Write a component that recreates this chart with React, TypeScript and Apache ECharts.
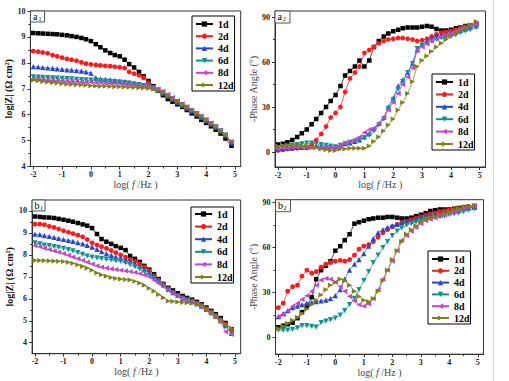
import React, { useEffect, useRef } from "react";
import * as echarts from "echarts";

const FONT = "'Liberation Serif', 'Times New Roman', serif";

// log(f/Hz) sampling points
const logF = [
  -2, -1.83, -1.67, -1.5, -1.33, -1.17,
  -1, -0.83, -0.67, -0.5, -0.33, -0.17,
  0, 0.17, 0.33, 0.5, 0.67, 0.83,
  1, 1.17, 1.33, 1.5, 1.67, 1.83,
  2, 2.17, 2.33, 2.5, 2.67, 2.83,
  3, 3.17, 3.33, 3.5, 3.67, 3.83,
  4, 4.17, 4.33, 4.5, 4.67, 4.88,
];

const seriesNames = ["1d", "2d", "4d", "6d", "8d", "12d"];

const xTicks = [-2, -1, 0, 1, 2, 3, 4, 5];
const xMinorTicks = [-1.5, -0.5, 0.5, 1.5, 2.5, 3.5, 4.5];
const zTicks = [4, 5, 6, 7, 8, 9, 10];
const zMinorTicks = [4.5, 5.5, 6.5, 7.5, 8.5, 9.5];
const phaseTicks = [0, 30, 60, 90];
const phaseMinorTicks = [15, 45, 75];

// Panel a1: log|Z|
const a1_1d = [9.15, 9.14, 9.13, 9.12, 9.11, 9.1, 9.08, 9.06, 9.03, 9.0, 8.96, 8.91, 8.84, 8.72, 8.6, 8.48, 8.38, 8.3, 8.25, 8.12, 7.95, 7.82, 7.65, 7.48, 7.3, 7.1, 6.92, 6.75, 6.6, 6.5, 6.4, 6.3, 6.18, 6.05, 5.93, 5.8, 5.68, 5.55, 5.42, 5.27, 5.08, 4.8];
const a1_2d = [8.45, 8.43, 8.4, 8.37, 8.3, 8.25, 8.2, 8.15, 8.12, 8.08, 8.02, 7.97, 7.94, 7.92, 7.9, 7.88, 7.87, 7.85, 7.83, 7.8, 7.65, 7.58, 7.52, 7.42, 7.22, 7.05, 6.95, 6.82, 6.7, 6.58, 6.46, 6.35, 6.24, 6.12, 6.0, 5.88, 5.75, 5.62, 5.5, 5.35, 5.18, 4.9];
const a1_4d = [7.85, 7.84, 7.82, 7.8, 7.79, 7.77, 7.75, 7.73, 7.72, 7.7, 7.68, 7.65, 7.6, 7.42, 7.38, 7.36, 7.34, 7.32, 7.3, 7.28, 7.25, 7.22, 7.18, 7.13, 7.08, 7.02, 6.94, 6.84, 6.72, 6.6, 6.48, 6.37, 6.26, 6.14, 6.02, 5.9, 5.77, 5.64, 5.52, 5.37, 5.2, 4.92];
const a1_6d = [7.46, 7.45, 7.44, 7.43, 7.42, 7.41, 7.4, 7.39, 7.38, 7.36, 7.35, 7.34, 7.33, 7.32, 7.31, 7.3, 7.29, 7.28, 7.26, 7.24, 7.22, 7.19, 7.16, 7.12, 7.08, 7.03, 6.96, 6.86, 6.74, 6.62, 6.5, 6.39, 6.28, 6.16, 6.04, 5.92, 5.79, 5.66, 5.53, 5.38, 5.21, 4.93];
const a1_8d = [7.38, 7.37, 7.35, 7.34, 7.32, 7.31, 7.3, 7.29, 7.28, 7.27, 7.26, 7.25, 7.25, 7.24, 7.23, 7.22, 7.21, 7.2, 7.2, 7.18, 7.16, 7.14, 7.12, 7.1, 7.08, 7.04, 6.98, 6.9, 6.78, 6.66, 6.54, 6.42, 6.3, 6.18, 6.06, 5.94, 5.81, 5.68, 5.55, 5.4, 5.23, 4.95];
const a1_12d = [7.33, 7.31, 7.28, 7.26, 7.24, 7.22, 7.2, 7.18, 7.17, 7.16, 7.15, 7.14, 7.12, 7.11, 7.1, 7.1, 7.09, 7.08, 7.08, 7.07, 7.06, 7.05, 7.04, 7.03, 7.02, 6.99, 6.94, 6.86, 6.75, 6.63, 6.51, 6.4, 6.29, 6.17, 6.05, 5.93, 5.8, 5.67, 5.54, 5.39, 5.22, 4.96];

// Panel a2: -Phase angle
const a2_1d = [5, 5.5, 6.5, 8, 10, 12.5, 15, 18.5, 22, 26, 30, 34, 38, 44, 51, 54, 57, 61, 57, 61, 70, 74, 77, 79, 80.5, 81.5, 82.5, 83, 83, 83, 83.5, 84, 83.5, 82, 81, 81, 81.5, 82.5, 83, 84, 84.5, 85];
const a2_2d = [1, 1.5, 2, 2.5, 2.5, 3, 3.5, 5, 8, 12, 17, 23, 26, 30, 40, 49, 53, 57, 66, 68, 70, 72.5, 74, 75, 75.5, 76, 76, 75.5, 75, 74, 74.5, 75.5, 77, 78.5, 79.5, 80, 80.5, 81.5, 82.5, 83.5, 84.5, 86];
const a2_4d = [2, 2, 2.5, 2.5, 3, 3, 3, 3.5, 4, 4, 3.5, 3.5, 3.5, 4.5, 5.5, 6, 7, 8, 10, 12.5, 15.5, 19, 23, 30, 36, 44, 48, 53, 59, 68, 72, 74, 76, 77.5, 78, 78.5, 79, 80, 81, 82, 83, 84];
const a2_6d = [3, 3.5, 4, 4.5, 5, 5.5, 6, 6, 5.5, 5, 4.5, 4, 3.5, 4.5, 5.5, 6.5, 7, 8, 9.5, 11, 14, 18, 22, 29, 35, 42, 47, 53, 59, 69, 71, 72.5, 74, 75, 76, 76.5, 77, 78, 79.5, 80.5, 81.5, 83];
const a2_8d = [2, 2.5, 2.5, 3, 3, 3, 3, 3, 3, 3, 3, 3, 3, 4.5, 6, 7, 8.5, 10, 13, 15, 16, 19, 23, 28, 33, 39, 45, 50, 56, 68, 70, 72, 74, 75.5, 77, 78, 79, 80.5, 82, 83, 84, 85];
const a2_12d = [4, 4.5, 4.5, 4.5, 4.5, 4, 4, 3.5, 3, 2, 1.5, 1, 1, 2, 2, 2.5, 2.5, 2.5, 2.5, 4, 7, 10, 14, 18, 22, 28, 33, 39, 47, 57, 61, 64, 67, 70, 72.5, 75, 77, 79, 81, 83, 85, 87];

// Panel b1: log|Z|
const b1_1d = [9.75, 9.73, 9.71, 9.7, 9.68, 9.64, 9.6, 9.56, 9.51, 9.45, 9.39, 9.33, 9.22, 8.95, 8.72, 8.6, 8.5, 8.4, 8.32, 8.22, 7.95, 7.82, 7.68, 7.5, 7.33, 7.12, 6.9, 6.68, 6.5, 6.38, 6.25, 6.13, 6.04, 5.96, 5.86, 5.75, 5.6, 5.45, 5.3, 5.12, 4.9, 4.62];
const b1_2d = [9.4, 9.4, 9.38, 9.3, 9.25, 9.18, 9.1, 9.03, 8.97, 8.9, 8.82, 8.7, 8.55, 8.45, 8.38, 8.3, 8.2, 8.1, 8.0, 7.9, 7.8, 7.7, 7.58, 7.45, 7.28, 7.05, 6.85, 6.65, 6.45, 6.3, 6.17, 6.05, 5.97, 5.9, 5.8, 5.7, 5.55, 5.4, 5.25, 5.05, 4.85, 4.6];
const b1_4d = [8.95, 8.92, 8.88, 8.84, 8.8, 8.75, 8.7, 8.66, 8.62, 8.56, 8.5, 8.43, 8.35, 8.25, 8.15, 8.05, 7.98, 7.9, 7.85, 7.78, 7.7, 7.6, 7.48, 7.35, 7.2, 7.02, 6.83, 6.63, 6.43, 6.28, 6.15, 6.03, 5.95, 5.87, 5.78, 5.67, 5.52, 5.37, 5.2, 5.0, 4.78, 4.42];
const b1_6d = [8.55, 8.5, 8.45, 8.42, 8.38, 8.34, 8.3, 8.24, 8.18, 8.1, 8.02, 7.95, 7.9, 7.86, 7.83, 7.8, 7.77, 7.73, 7.7, 7.63, 7.55, 7.45, 7.35, 7.22, 7.08, 6.92, 6.76, 6.6, 6.42, 6.27, 6.14, 6.02, 5.94, 5.86, 5.76, 5.65, 5.5, 5.35, 5.18, 4.98, 4.75, 4.42];
const b1_8d = [8.42, 8.37, 8.3, 8.24, 8.18, 8.12, 8.06, 7.98, 7.9, 7.83, 7.75, 7.67, 7.58, 7.5, 7.44, 7.4, 7.36, 7.33, 7.3, 7.27, 7.24, 7.2, 7.15, 7.08, 7.0, 6.85, 6.7, 6.55, 6.38, 6.24, 6.12, 6.0, 5.92, 5.85, 5.75, 5.63, 5.48, 5.33, 5.15, 4.95, 4.5, 4.38];
const b1_12d = [7.75, 7.75, 7.74, 7.73, 7.72, 7.71, 7.7, 7.66, 7.62, 7.55, 7.48, 7.4, 7.3, 7.18, 7.1, 7.03, 6.97, 6.93, 6.9, 6.88, 6.86, 6.8, 6.72, 6.62, 6.48, 6.35, 6.2, 6.05, 5.9, 5.88, 5.86, 5.84, 5.82, 5.8, 5.77, 5.72, 5.55, 5.4, 5.22, 5.02, 4.82, 4.65];

// Panel b2: -Phase angle
const b2_1d = [7, 8, 9, 10, 13, 17, 21, 27, 39, 45, 48, 51, 58, 61, 65, 69, 76, 77, 78, 79, 79.5, 80, 80, 80.5, 80.5, 80, 79.5, 79.5, 80, 81, 82, 83, 84.5, 85, 85.5, 85.5, 85.5, 86, 86.5, 87, 87, 87];
const b2_2d = [20, 23, 31, 34, 35, 41, 45, 43, 44, 47, 49, 50, 51, 51.5, 51, 52, 55, 59, 61, 62, 64, 67, 70, 72, 74, 75.5, 76.5, 77.5, 78.5, 79.5, 80.5, 81.5, 82.5, 83, 84, 84.5, 85, 85.5, 86, 87, 87.5, 88];
const b2_4d = [14, 16, 18, 20, 21, 22, 23, 23.5, 24, 24.5, 25, 26, 28, 32, 39, 45, 49, 52, 56, 61, 66, 70, 72, 73.5, 74.5, 75.5, 76.5, 77.5, 78, 79, 80, 81, 81.5, 82, 82.5, 83, 84, 84.5, 85, 86, 86.5, 87];
const b2_6d = [5, 5, 5, 5.5, 6.5, 8, 8, 7.5, 7, 10, 11, 12, 13, 15, 18, 22, 26, 32, 38, 44, 50, 55, 60, 64, 68, 71, 73, 75, 76, 77, 78, 79, 79.5, 80, 80.5, 81, 82, 82.5, 83, 84, 85, 86];
const b2_8d = [14, 15.5, 18, 21, 23, 25.5, 28, 31, 35, 38.5, 39.5, 39, 37, 34, 31, 27.5, 24.5, 22, 21, 22.5, 26, 32, 39, 45, 51, 58, 65, 68, 71, 73.5, 76, 78, 79, 80, 81, 82, 83, 84, 85, 86, 87, 88];
const b2_12d = [6, 7.5, 9.5, 11.5, 13.5, 16, 19, 22, 25, 28.5, 32, 35, 37, 39, 38, 35, 31, 27.5, 25, 24, 26, 31, 38, 45, 52, 58, 64, 69, 72, 74.5, 77, 79, 80, 81, 82, 83, 84, 85, 86, 87, 87.5, 88];

const colors = ["#000000", "#ff1a1a", "#2a45c8", "#139090", "#c048c8", "#80801a"];
const symbols = [
  "rect",
  "circle",
  "triangle",
  "path://M0,0L10,0L5,10Z",
  "path://M10,0L10,10L0,5Z",
  "path://M0,0L10,5L0,10Z",
];
const symbolSizes = [4.5, 4.8, 5.2, 5.2, 5.2, 5.2];

const panels = [
  {
    label: ["a", "1"],
    grid: { left: 30.4, top: 11, width: 210.3, height: 155.5 },
    x: { min: -2.1, max: 5.2, nameGap: 12 },
    y: { min: 4, max: 10, ticks: zTicks, minor: zMinorTicks, name: "log|Z| (Ω cm²)", bold: true, nameGap: 17 },
    legend: { left: 192, top: 16, gap: 2.2, padding: [3, 1, 1, 3] },
    box: { x: 30.5, y: 11, w: 14, h: 11 },
    data: [a1_1d, a1_2d, a1_4d, a1_6d, a1_8d, a1_12d],
  },
  {
    label: ["a", "2"],
    grid: { left: 275, top: 11, width: 210.5, height: 156 },
    x: { min: -2.1, max: 5.2, nameGap: 12 },
    y: { min: -10, max: 94, ticks: phaseTicks, minor: phaseMinorTicks, name: "-Phase Angle (°)", bold: false, nameGap: 15.5 },
    legend: { left: 432, top: 74, gap: 2.4, padding: [3, 1, 1, 3] },
    box: { x: 275, y: 11, w: 15, h: 12 },
    data: [a2_1d, a2_2d, a2_4d, a2_6d, a2_8d, a2_12d],
  },
  {
    label: ["b", "1"],
    grid: { left: 32.1, top: 200, width: 208.6, height: 153.7 },
    x: { min: -2.1, max: 5.2, nameGap: 13 },
    y: { min: 3.5, max: 10.5, ticks: zTicks, minor: zMinorTicks, name: "log|Z| (Ω cm²)", bold: true, nameGap: 18 },
    legend: { left: 191, top: 207, gap: 2.6, padding: [2, 1, 1, 3] },
    box: { x: 32.1, y: 200, w: 13, h: 11 },
    data: [b1_1d, b1_2d, b1_4d, b1_6d, b1_8d, b1_12d],
  },
  {
    label: ["b", "2"],
    grid: { left: 275.5, top: 199.7, width: 208, height: 154.5 },
    x: { min: -2.1, max: 5.2, nameGap: 13 },
    y: { min: -11, max: 92, ticks: phaseTicks, minor: phaseMinorTicks, name: "-Phase Angle (°)", bold: false, nameGap: 16.5 },
    legend: { left: 428, top: 251, gap: 1.8, padding: [3, 1, 1, 3] },
    box: { x: 275.5, y: 199.7, w: 15, h: 12 },
    data: [b2_1d, b2_2d, b2_4d, b2_6d, b2_8d, b2_12d],
  },
];

function buildOption() {
  const grids: any[] = [];
  const xAxes: any[] = [];
  const yAxes: any[] = [];
  const series: any[] = [];
  const legends: any[] = [];
  const graphics: any[] = [];
  const axisColor = "#333";

  panels.forEach((p, g) => {
    grids.push({
      ...p.grid,
      show: true,
      borderColor: axisColor,
      borderWidth: 1,
      backgroundColor: "rgba(0,0,0,0)",
    });
    xAxes.push({
      type: "value",
      gridIndex: g,
      position: "bottom",
      min: p.x.min,
      max: p.x.max,
      axisLine: { show: true, onZero: false, lineStyle: { color: axisColor, width: 1 } },
      axisTick: { show: true, customValues: xTicks, length: 3, lineStyle: { color: axisColor } },
      axisLabel: { customValues: xTicks, fontFamily: FONT, fontWeight: "bold", fontSize: 8, color: "#222", margin: 4 },
      splitLine: { show: false },
      name: "log( {i|f} /Hz )",
      nameLocation: "middle",
      nameGap: p.x.nameGap,
      nameTextStyle: {
        fontFamily: FONT,
        fontSize: 10,
        color: "#444",
        rich: { i: { fontFamily: FONT, fontSize: 10, fontStyle: "italic", color: "#444" } },
      },
    });
    xAxes.push({
      type: "value",
      gridIndex: g,
      position: "bottom",
      min: p.x.min,
      max: p.x.max,
      axisLine: { show: false, onZero: false },
      axisTick: { show: true, customValues: xMinorTicks, length: 2, lineStyle: { color: axisColor } },
      axisLabel: { show: false },
      splitLine: { show: false },
    });
    yAxes.push({
      type: "value",
      gridIndex: g,
      position: "left",
      min: p.y.min,
      max: p.y.max,
      axisLine: { show: true, onZero: false, lineStyle: { color: axisColor, width: 1 } },
      axisTick: { show: true, customValues: p.y.ticks, length: 3, lineStyle: { color: axisColor } },
      axisLabel: { customValues: p.y.ticks, fontFamily: FONT, fontWeight: "bold", fontSize: 8, color: "#222", margin: 5 },
      splitLine: { show: false },
      name: p.y.name,
      nameLocation: "middle",
      nameGap: p.y.nameGap,
      nameTextStyle: {
        fontFamily: FONT,
        fontSize: 10,
        fontWeight: p.y.bold ? "bold" : "normal",
        color: p.y.bold ? "#111" : "#444",
      },
    });
    yAxes.push({
      type: "value",
      gridIndex: g,
      position: "left",
      min: p.y.min,
      max: p.y.max,
      axisLine: { show: false, onZero: false },
      axisTick: { show: true, customValues: p.y.minor, length: 2, lineStyle: { color: axisColor } },
      axisLabel: { show: false },
      splitLine: { show: false },
    });

    p.data.forEach((arr, s) => {
      series.push({
        type: "line",
        name: seriesNames[s],
        xAxisIndex: 2 * g,
        yAxisIndex: 2 * g,
        data: logF.map((x, i) => [x, arr[i]]),
        symbol: symbols[s],
        symbolSize: symbolSizes[s],
        showSymbol: true,
        lineStyle: { color: colors[s], width: 0.7 },
        itemStyle: { color: colors[s] },
        emphasis: { disabled: true },
        z: 2 + s,
      });
    });

    legends.push({
      data: seriesNames,
      orient: "vertical",
      left: p.legend.left,
      top: p.legend.top,
      itemGap: p.legend.gap,
      itemWidth: 17,
      itemHeight: 6.5,
      padding: p.legend.padding,
      borderColor: "#000",
      borderWidth: 1,
      backgroundColor: "#fff",
      textStyle: { fontFamily: FONT, fontWeight: "bold", fontSize: 10, color: "#000", lineHeight: 10 },
      selectedMode: false,
      z: 10,
    });

    graphics.push({
      type: "rect",
      shape: { x: p.box.x, y: p.box.y, width: p.box.w, height: p.box.h },
      style: { fill: "#fff", stroke: "#555", lineWidth: 1 },
      z: 20,
    });
    graphics.push({
      type: "text",
      x: p.box.x + 2.5,
      y: p.box.y + 0.5,
      style: {
        text: p.label[0],
        fontFamily: FONT,
        fontSize: 10,
        fill: "#000",
        textAlign: "left",
        textVerticalAlign: "top",
        align: "left",
        verticalAlign: "top",
      },
      z: 21,
    });
    graphics.push({
      type: "text",
      x: p.box.x + 8,
      y: p.box.y + 5,
      style: {
        text: p.label[1],
        fontFamily: FONT,
        fontSize: 6,
        fill: "#000",
        textAlign: "left",
        textVerticalAlign: "top",
        align: "left",
        verticalAlign: "top",
      },
      z: 21,
    });
  });

  graphics.push({
    type: "line",
    shape: { x1: 493.5, y1: 0, x2: 493.5, y2: 381 },
    style: { stroke: "#dcdcdc", lineWidth: 1 },
    z: 1,
  });

  return {
    animation: false,
    backgroundColor: "#fff",
    grid: grids,
    xAxis: xAxes,
    yAxis: yAxes,
    legend: legends,
    series,
    graphic: { elements: graphics },
  };
}

export default function App() {
  const ref = useRef<HTMLDivElement>(null);
  useEffect(() => {
    if (!ref.current) return;
    const chart = echarts.init(ref.current, undefined, { renderer: "svg" });
    chart.setOption(buildOption() as any);
    return () => chart.dispose();
  }, []);
  return (
    <div
      ref={ref}
      style={{ position: "absolute", left: 0, top: 0, width: 509, height: 381, background: "#fff" }}
    />
  );
}
